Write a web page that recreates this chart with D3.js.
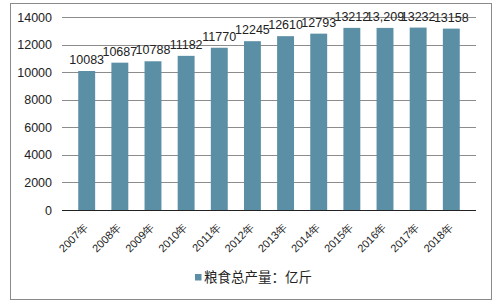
<!DOCTYPE html>
<html><head><meta charset="utf-8">
<script src="https://cdn.jsdelivr.net/npm/d3@7"></script>
<style>body{margin:0;background:#fff;}svg{display:block;font-family:"Liberation Sans",Arial,sans-serif;}</style>
</head><body><svg id="c" width="497" height="305"></svg>
<script>
const categories = ["2007年","2008年","2009年","2010年","2011年","2012年","2013年","2014年","2015年","2016年","2017年","2018年"];
const values = [10083,10687,10788,11182,11770,12245,12610,12793,13212,13209,13232,13158];
const valueLabels = ["10083","10687","10788","11182","11770","12245","12610","12793","13212","13,209","13232","13158"];
const yTicks = [0,2000,4000,6000,8000,10000,12000,14000];
const seriesName = "粮食总产量：亿斤";

const svg = d3.select("#c");
const color = "#5b8fa5";
svg.append("rect").attr("x",10.5).attr("y",3.5).attr("width",481).attr("height",296)
  .attr("fill","#fff").attr("stroke","#8a8a8a").attr("stroke-width",1);

const x = d3.scaleBand().domain(categories).range([62,476]).padding(0.49);
const y = d3.scaleLinear().domain([0,14000]).range([210,17]);

const grid = svg.append("g");
yTicks.forEach(t=>{
  if(t>0) grid.append("line").attr("x1",62).attr("x2",476).attr("y1",Math.round(y(t))+0.5).attr("y2",Math.round(y(t))+0.5)
    .attr("stroke","#8c8c8c").attr("stroke-width",1);
});
const yAxis = svg.append("g").attr("transform","translate(62,0)")
  .call(d3.axisLeft(y).tickValues(yTicks).tickFormat(d3.format("d")).tickSize(0).tickPadding(10));
yAxis.select(".domain").remove();
yAxis.selectAll("text").attr("font-size","12.5px").attr("fill","#222").attr("font-family","Liberation Sans, Arial, sans-serif");

svg.append("g").selectAll("rect").data(values).join("rect")
  .attr("x",(d,i)=>x(categories[i])).attr("width",x.bandwidth())
  .attr("y",d=>y(d)).attr("height",d=>y(0)-y(d)).attr("fill",color);

svg.append("line").attr("x1",62).attr("x2",476).attr("y1",210.5).attr("y2",210.5).attr("stroke","#222").attr("stroke-width",1);

svg.append("g").selectAll("text").data(values).join("text")
  .attr("x",(d,i)=>x(categories[i])+x.bandwidth()/2).attr("y",d=>y(d)-7)
  .attr("text-anchor","middle").attr("font-size","12.5px").attr("fill","#222")
  .text((d,i)=>valueLabels[i]);

const xAxis = svg.append("g").attr("transform","translate(0,210)")
  .call(d3.axisBottom(x).tickSize(0).tickPadding(0));
xAxis.select(".domain").remove();
xAxis.selectAll("text").attr("font-size","11px").attr("fill","#222")
  .attr("font-family","Liberation Sans, Arial, sans-serif")
  .attr("text-anchor","end").attr("dy","0")
  .attr("transform","translate(2,18) rotate(-45)");

const lg = svg.append("g");
lg.append("rect").attr("x",195).attr("y",274).attr("width",6.5).attr("height",6.5).attr("fill",color);
lg.append("text").attr("x",204).attr("y",282).attr("font-size","13.5px").attr("fill","#222")
  .attr("font-family","Noto Sans CJK SC, sans-serif").text(seriesName);
</script></body></html>
